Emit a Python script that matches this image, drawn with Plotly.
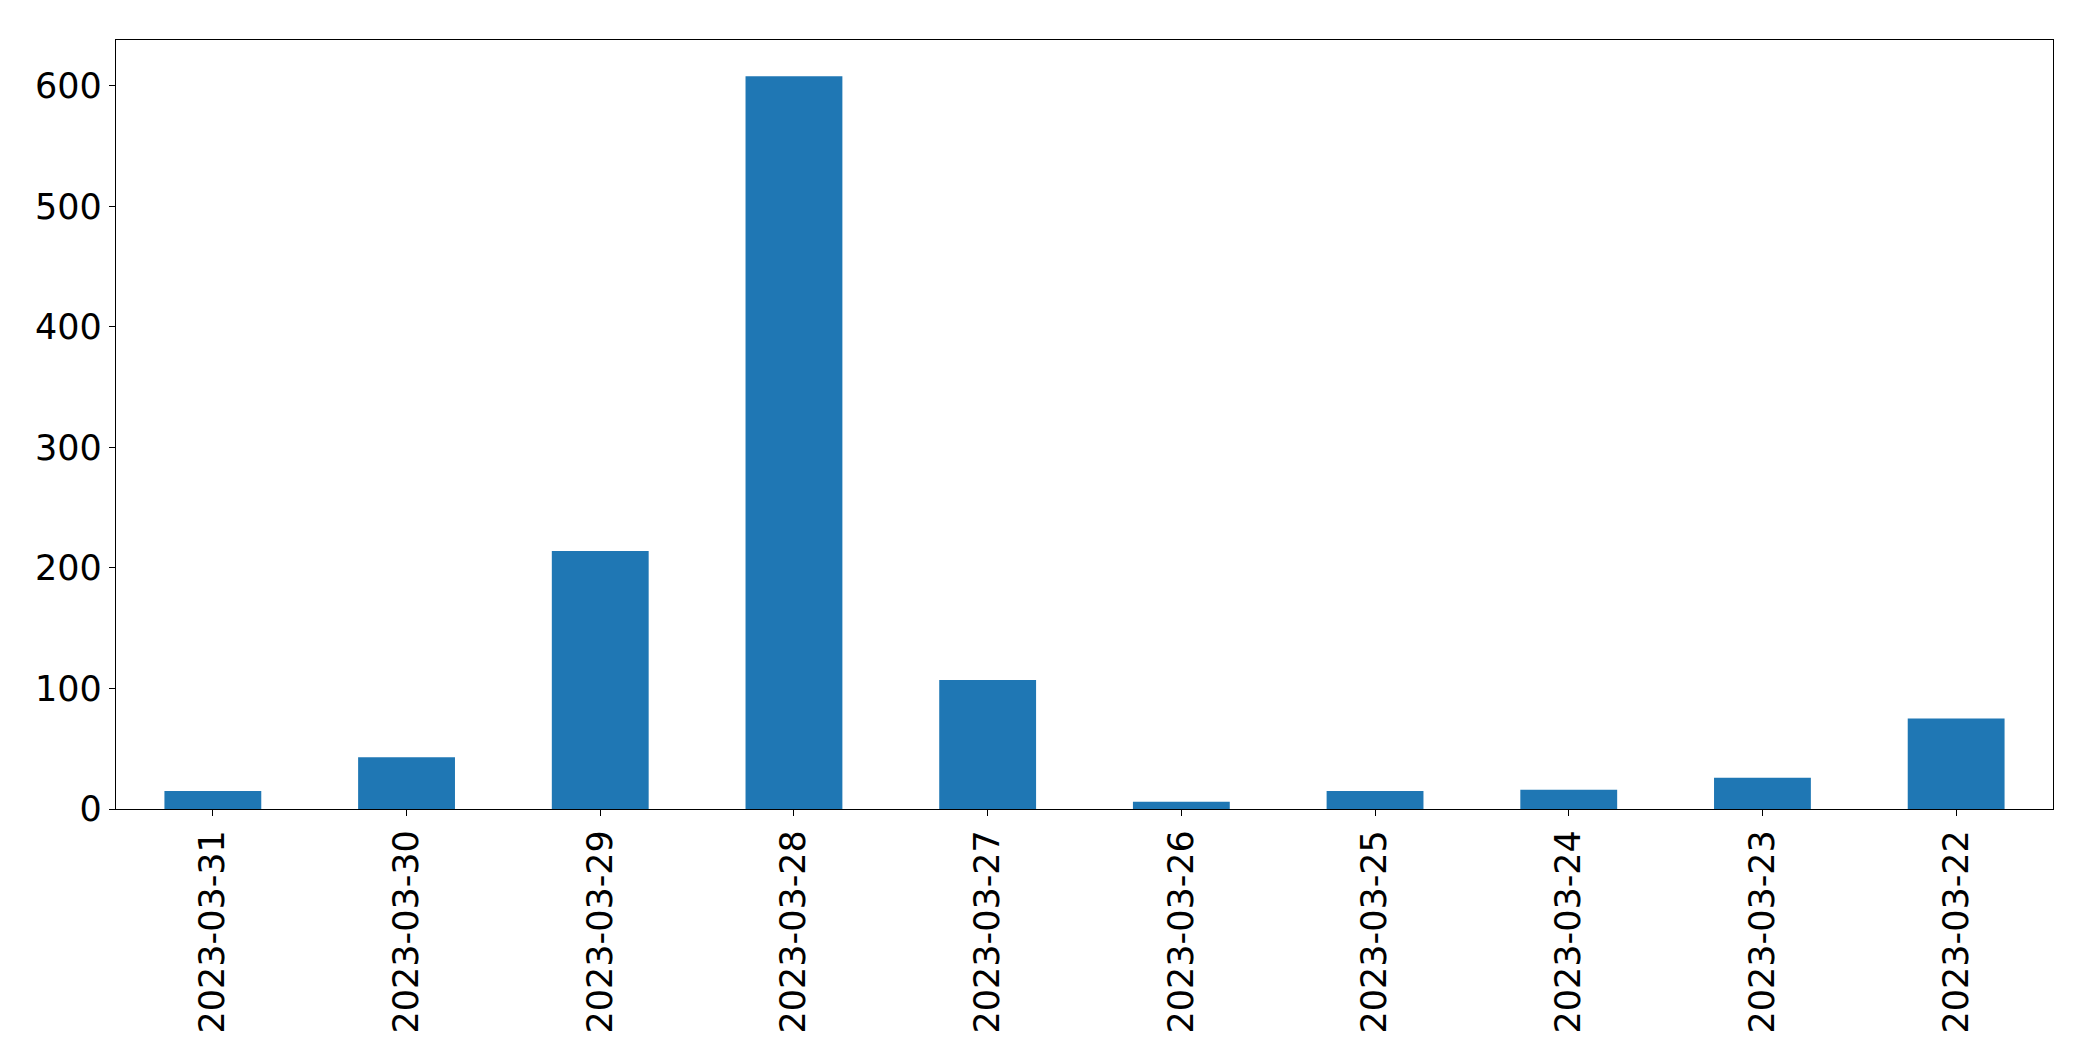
import plotly.graph_objects as go

dates = ["2023-03-31", "2023-03-30", "2023-03-29", "2023-03-28", "2023-03-27",
         "2023-03-26", "2023-03-25", "2023-03-24", "2023-03-23", "2023-03-22"]
counts = [15, 43, 214, 608, 107, 6, 15, 16, 26, 75]
y_ticks = [0, 100, 200, 300, 400, 500, 600]

fig = go.Figure(go.Bar(x=list(range(len(dates))), y=counts, width=0.5,
                       marker=dict(color="#1f77b4", line=dict(width=0))))

font = dict(family="DejaVu Sans", size=35, color="black")
fig.update_layout(
    width=2093, height=1061,
    margin=dict(l=108, r=48, t=32, b=260),
    plot_bgcolor="white", paper_bgcolor="white",
    showlegend=False, font=font,
)
fig.update_xaxes(
    range=[-0.5, len(dates) - 0.5],
    tickmode="array", tickvals=list(range(len(dates))), ticktext=dates,
    tickangle=-90, ticks="outside", ticklen=6, tickwidth=1.3, tickcolor="black",
    showline=True, linecolor="black", linewidth=1.3, mirror=True,
    showgrid=False, zeroline=False, tickfont=font,
)
fig.update_yaxes(
    range=[0, 638], tickmode="array", tickvals=y_ticks,
    ticks="outside", ticklen=6, tickwidth=1.3, tickcolor="black",
    showline=True, linecolor="black", linewidth=1.3, mirror=True,
    showgrid=False, zeroline=False, tickfont=font,
)
fig.write_html("out.html")
